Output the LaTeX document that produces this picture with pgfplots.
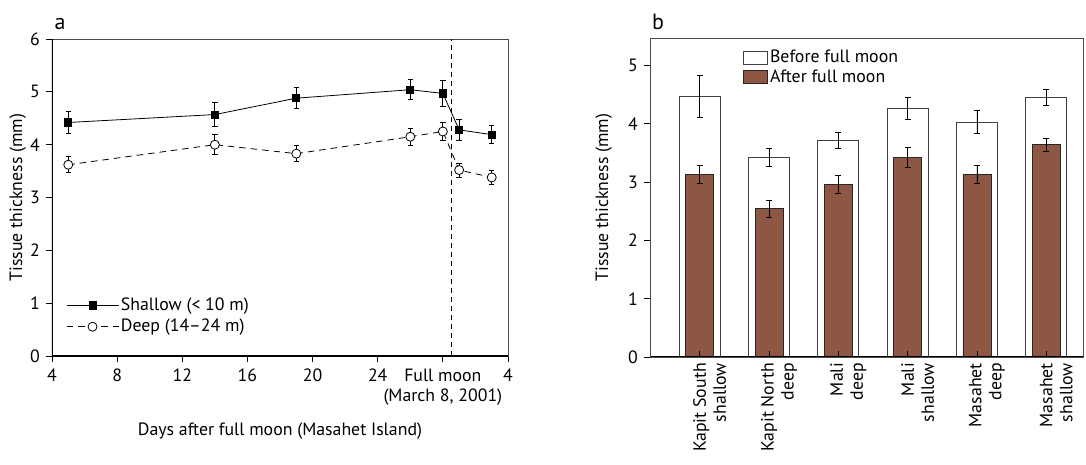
\documentclass[border=0pt]{standalone}
\usepackage{pgfplots}
\pgfplotsset{compat=1.18}
\usepackage{pgfplotstable}
\usepackage{fontspec}
\setmainfont{PT Sans}
\definecolor{brownbar}{RGB}{142,87,68}

\pgfplotstableread{
x y ey
5 4.42 0.21
14 4.57 0.23
19 4.88 0.20
26 5.04 0.19
28 4.97 0.24
29 4.28 0.19
31 4.19 0.17
}\shallow
\pgfplotstableread{
x y ey
5 3.62 0.15
14 4.00 0.19
19 3.83 0.15
26 4.15 0.16
28 4.25 0.17
29 3.52 0.13
31 3.38 0.13
}\deep
\pgfplotstableread{
x y ey
0 4.47 0.36
1 3.42 0.15
2 3.71 0.14
3 4.26 0.19
4 4.03 0.20
5 4.45 0.14
}\before
\pgfplotstableread{
x y ey
0 3.13 0.15
1 2.54 0.14
2 2.96 0.15
3 3.42 0.17
4 3.13 0.15
5 3.64 0.11
}\after

\begin{document}
\fontsize{17.8}{20}\selectfont
\begin{tikzpicture}
\pgfplotsset{
  common/.style={
    scale only axis,
    anchor=south west,
    /pgf/number format/assume math mode=true,
    axis line style={line width=0.6pt, black!70},
    tick style={line width=0.8pt, black},
    major tick length=6pt,
    tick pos=left,
    ylabel={Tissue thickness (mm)},
    ytick={0,...,6},
  },
}
% ---------------- panel a
\begin{axis}[common,
  at={(52pt,108pt)}, width=456pt, height=317pt,
  xmin=4, xmax=32, ymin=0, ymax=6,
  tick align=outside,
  xtick={4,8,...,32},
  xticklabels={4,8,12,16,20,24,{Full moon\\(March 8, 2001)},4},
  xticklabel style={align=center, yshift=-1pt},
  xlabel={Days after full moon (Masahet Island)},
  xlabel style={yshift=-5pt},
  ylabel style={yshift=-8pt},
  legend style={draw=none, fill=none, at={(0.024,0.055)}, anchor=south west,
    row sep=2pt, cells={anchor=west}},
  legend image code/.code={\draw[mark repeat=2,mark phase=2,#1] plot coordinates {(0pt,0pt) (26pt,0pt) (52pt,0pt)};},
]
\addplot[forget plot, line width=0.8pt, dash pattern=on 5pt off 4pt] coordinates {(28.55,0) (28.55,6)};
\addplot[black, line width=0.8pt, mark=square*, mark size=3.6pt,
  error bars/.cd, y dir=both, y explicit,
  error bar style={line width=0.8pt, solid},
  error mark options={rotate=90, mark size=2.7pt, line width=0.8pt, solid}]
  table[x=x, y=y, y error=ey] {\shallow};
\addlegendentry{Shallow (< 10 m)}
\addplot[black, line width=0.8pt, dash pattern=on 6.5pt off 5pt, mark=*, mark size=4.5pt,
  mark options={solid, fill=white, draw=black},
  error bars/.cd, y dir=both, y explicit,
  error bar style={line width=0.8pt, solid},
  error mark options={rotate=90, mark size=2.7pt, line width=0.8pt, solid}]
  table[x=x, y=y, y error=ey] {\deep};
\addlegendentry{Deep (14--24 m)}
\draw[line width=1.2pt] (rel axis cs:0,1) -- (rel axis cs:0,0) -- (rel axis cs:1,0);
\end{axis}
% ---------------- panel b
\begin{axis}[common,
  at={(650pt,107pt)}, width=433pt, height=319pt,
  xmin=-0.717, xmax=5.53, ymin=0, ymax=5.47,
  axis on top,
  tick align=inside,
  ytick style={xshift=-6pt},
  ytick={0,...,5},
  xtick={0,...,5},
  xticklabels={{Kapit South\\shallow},{Kapit North\\deep},{Mali\\deep},{Mali\\shallow},{Masahet\\deep},{Masahet\\shallow}},
  xticklabel style={rotate=90, anchor=east, align=right, yshift=-10pt},
  yticklabel style={xshift=-6pt},
  ylabel style={yshift=4pt},
  legend style={draw=none, fill=none, at={(0.208,0.975)}, anchor=north west,
    row sep=0pt, cells={anchor=west}},
  legend image code/.code={\draw[#1] (0pt,-6.5pt) rectangle (24pt,6.5pt);},
]
\addplot[ybar, bar width=41pt, bar shift=0pt, fill=white, draw=black!75, line width=0.8pt,
  error bars/.cd, y dir=both, y explicit,
  error bar style={line width=0.8pt, black},
  error mark options={rotate=90, mark size=3pt, line width=0.8pt, black}]
  table[x=x, y=y, y error=ey] {\before};
\addlegendentry{Before full moon}
\addplot[ybar, bar width=28pt, bar shift=0pt, fill=brownbar, draw=black!85, line width=0.8pt,
  error bars/.cd, y dir=both, y explicit,
  error bar style={line width=0.8pt, black},
  error mark options={rotate=90, mark size=3pt, line width=0.8pt, black}]
  table[x=x, y=y, y error=ey] {\after};
\addlegendentry{After full moon}
\draw[line width=1.2pt] (rel axis cs:0,1) -- (rel axis cs:0,0) -- (rel axis cs:1,0);
\end{axis}
\node[font=\fontsize{22}{24}\selectfont] at (60pt,440pt) {a};
\node[font=\fontsize{22}{24}\selectfont] at (658pt,442pt) {b};
\pgfresetboundingbox
\path (0pt,0pt) rectangle (1086pt,464pt);
\end{tikzpicture}
\end{document}
